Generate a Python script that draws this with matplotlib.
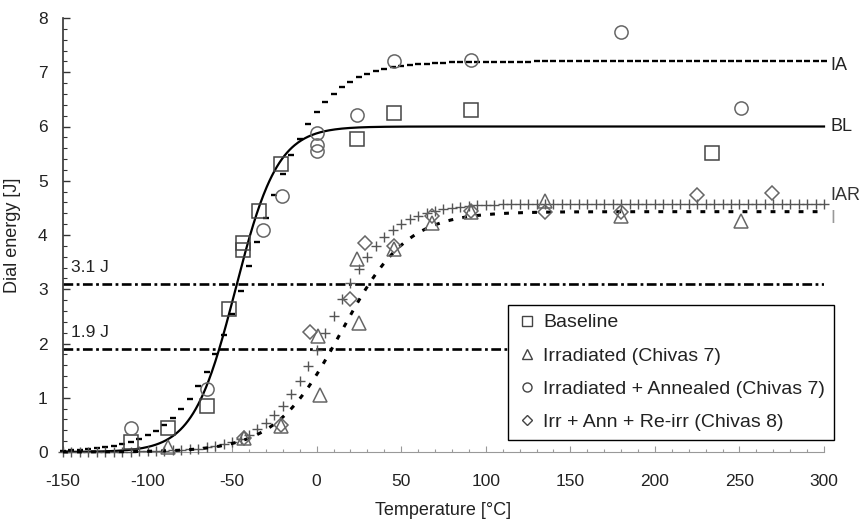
import numpy as np
import matplotlib
matplotlib.use("Agg")
import matplotlib.pyplot as plt
from matplotlib.lines import Line2D
from matplotlib.ticker import MultipleLocator

plt.rcParams['font.family'] = ['Liberation Sans', 'DejaVu Sans']
plt.rcParams['lines.scale_dashes'] = False
plt.rcParams['axes.unicode_minus'] = False

# Charpy test results: temperature [°C] and dial energy [J]
baseline_T = [-110, -88, -65, -52, -43.5, -43.5, -34, -21, 24, 46, 91, 234]
baseline_E = [0.19, 0.44, 0.85, 2.63, 3.72, 3.86, 4.45, 5.30, 5.77, 6.24, 6.30, 5.52]

irr_T = [-88, -43, -21, 1, 2, 24, 25, 46, 68, 91, 135, 180, 251]
irr_E = [0.10, 0.25, 0.48, 2.13, 1.05, 3.55, 2.37, 3.75, 4.22, 4.43, 4.62, 4.35, 4.25]

ann_T = [-110, -65, -31.5, -20.3, 0, 0, 0, 24, 46, 91, 180, 251]
ann_E = [0.45, 1.17, 4.10, 4.71, 5.88, 5.66, 5.54, 6.22, 7.20, 7.22, 7.74, 6.34]

reirr_T = [-43, -21, -4, 20, 28.5, 46, 68, 91, 135, 180, 225, 269]
reirr_E = [0.25, 0.50, 2.22, 2.82, 3.85, 3.80, 4.35, 4.45, 4.42, 4.42, 4.74, 4.77]

# tanh transition-curve fits: E = LS + (US-LS)/2 * (1 + tanh((T - T0)/C))
fit_names = ['IA', 'BL', 'IAR', 'I']
fit_lower = [0.0, 0.0, 0.0, 0.0]
fit_upper = [7.2, 6.0, 4.58, 4.43]
fit_T0 = [-38.0, -48.0, 6.5, 14.5]
fit_C = [40.0, 25.0, 36.0, 39.0]

# reference energy levels
ref_levels = [3.1, 1.9]
ref_labels = ['3.1 J', '1.9 J']

legend_labels = ['Baseline', 'Irradiated (Chivas 7)',
                 'Irradiated + Annealed (Chivas 7)', 'Irr + Ann + Re-irr (Chivas 8)']

x_ticks = list(range(-150, 301, 50))
y_ticks = list(range(0, 9))


def tanh_fit(T, i):
    ls, us = fit_lower[i], fit_upper[i]
    return ls + 0.5 * (us - ls) * (1.0 + np.tanh((T - fit_T0[i]) / fit_C[i]))


fig = plt.figure(figsize=(8.66, 5.22), dpi=100)
ax = fig.add_axes([63 / 866, 70 / 522, 761 / 866, 434 / 522])
ax.set_xlim(-150, 300)
ax.set_ylim(0, 8)

T_fine = np.linspace(-150, 300, 901)
T_step = np.arange(-150, 301, 5)

# reference dash-dot lines
for lvl, lab in zip(ref_levels, ref_labels):
    ax.plot([-150, 300], [lvl, lvl], color='black', lw=1.9,
            linestyle=(0, (7, 2.5, 2, 2.5)), zorder=2)
    ax.text(-145, lvl + 0.3, lab, fontsize=12.5, color='#222',
            ha='left', va='center')

# fitted transition curves
ax.plot(T_step, tanh_fit(T_step, 0), linestyle='none', marker='_',
        markersize=4.2, markeredgewidth=1.7, color='black', zorder=3, clip_on=False)
ax.plot(T_fine, tanh_fit(T_fine, 1), color='black', lw=1.6, zorder=3, clip_on=False)
ax.plot(T_step, tanh_fit(T_step, 2), linestyle='none', marker='+',
        markersize=7.5, markeredgewidth=1.0, color='#555', zorder=3, clip_on=False)
ax.plot(T_fine, tanh_fit(T_fine, 3), color='black', lw=2.2,
        linestyle=(0, (3.5, 6.6)), zorder=3, clip_on=False)

# curve labels at the right end
label_y = [7.12, 6.0, 4.72, 4.3]
label_colors = ['#222', '#222', '#333', '#999']
for name, yv, c in zip(fit_names, label_y, label_colors):
    ax.text(304, yv, name, fontsize=13, color=c, ha='left', va='center')

# measured points
mk = dict(linestyle='none', markerfacecolor='none', markersize=9.5,
          markeredgewidth=1.1, zorder=4, clip_on=False)
ax.plot(baseline_T, baseline_E, marker='s', markeredgecolor='#444', **mk)
ax.plot(irr_T, irr_E, marker='^', markeredgecolor='#666', **mk)
ax.plot(ann_T, ann_E, marker='o', markeredgecolor='#666', **mk)
ax.plot(reirr_T, reirr_E, marker='D', markeredgecolor='#666',
        **{**mk, 'markersize': 7.5})

# axes styling
ax.set_xticks(x_ticks)
ax.set_yticks(y_ticks)
ax.xaxis.set_minor_locator(MultipleLocator(10))
ax.yaxis.set_minor_locator(MultipleLocator(0.2))
ax.tick_params(axis='y', which='major', direction='in', length=5, width=1,
               color='#333', pad=11, labelsize=12.5, labelcolor='#222')
ax.tick_params(axis='y', which='minor', direction='in', length=3, width=0.8, color='#333')
ax.tick_params(axis='x', which='major', direction='in', length=4, width=0.8,
               color='#999', pad=16, labelsize=12.5, labelcolor='#222')
ax.tick_params(axis='x', which='minor', direction='in', length=2.5, width=0.8, color='#999')
for side in ('top', 'right'):
    ax.spines[side].set_visible(False)
ax.spines['left'].set_color('#333')
ax.spines['left'].set_linewidth(1.2)
ax.spines['bottom'].set_color('#999')
ax.spines['bottom'].set_linewidth(0.8)

ax.set_xlabel('Temperature [°C]', fontsize=13, color='#222')
ax.set_ylabel('Dial energy [J]', fontsize=13, color='#222')
ax.xaxis.set_label_coords(0.5, -0.115)
ax.yaxis.set_label_coords(-0.055, 0.5)

# legend
handles = [
    Line2D([], [], linestyle='none', marker='s', markerfacecolor='none',
           markeredgecolor='#444', markersize=6.5, markeredgewidth=1),
    Line2D([], [], linestyle='none', marker='^', markerfacecolor='none',
           markeredgecolor='#444', markersize=6.5, markeredgewidth=1),
    Line2D([], [], linestyle='none', marker='o', markerfacecolor='none',
           markeredgecolor='#444', markersize=6.5, markeredgewidth=1),
    Line2D([], [], linestyle='none', marker='D', markerfacecolor='none',
           markeredgecolor='#444', markersize=5, markeredgewidth=1),
]
leg = ax.legend(handles, legend_labels, loc='upper left',
                bbox_to_anchor=(508 / 866, 1 - 305 / 522), bbox_transform=fig.transFigure,
                borderaxespad=0, fontsize=14, frameon=True, fancybox=False,
                framealpha=1, edgecolor='black', borderpad=0.45, labelspacing=0.8,
                handlelength=1.1, handletextpad=0.25)
leg.get_frame().set_linewidth(1.0)
for t in leg.get_texts():
    t.set_color('#222')
leg.set_zorder(5)

fig.savefig('out.png', dpi=100)
